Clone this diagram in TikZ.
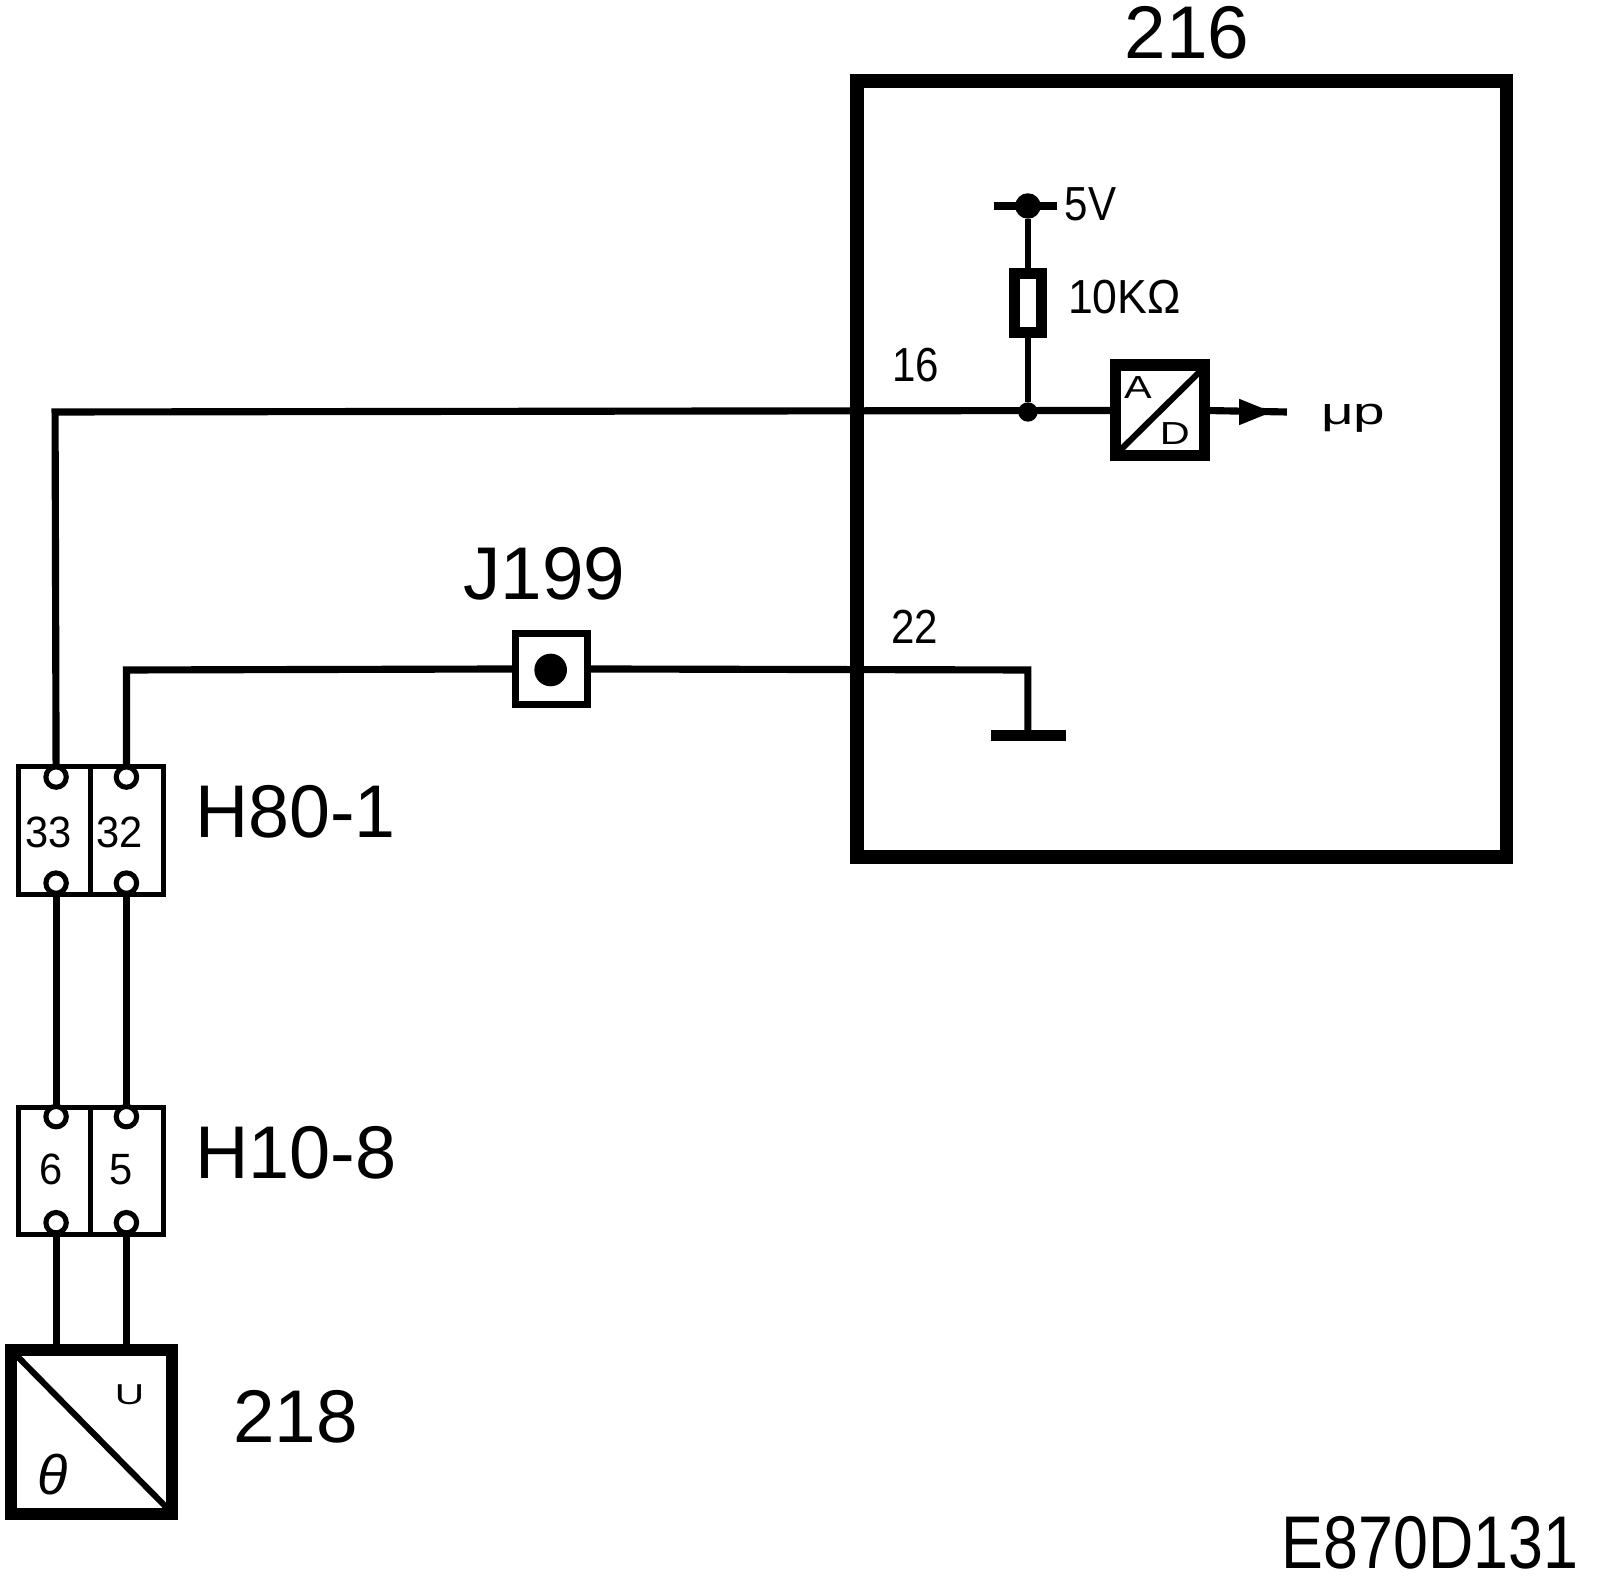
\documentclass[tikz,border=0pt]{standalone}
\usepackage{fontspec}
\setmainfont{Liberation Sans}
\newcommand{\fs}[1]{\fontsize{#1}{#1}\selectfont}
\newlength{\uu}\setlength{\uu}{0.512pt}
\tikzset{
  wire/.style={draw=black,line width=7\uu},
  thinwire/.style={draw=black,line width=6\uu},
  big/.style={font=\fs{37.5},inner sep=0pt,text=black},
  small/.style={font=\fs{24},inner sep=0pt,text=black,xscale=.88},
  pin/.style={circle,draw=black,fill=white,line width=5\uu,minimum size=20\uu,inner sep=0pt,outer sep=0pt},
  cell/.style={rectangle,draw=black,fill=white,line width=5\uu,minimum width=71\uu,minimum height=125\uu,inner sep=0pt,outer sep=0pt},
  dotn/.style={circle,fill=black,inner sep=0pt,outer sep=0pt},
  heavy/.style={rectangle,draw=black,inner sep=0pt,outer sep=0pt},
}
\begin{document}
\begin{tikzpicture}[x=\uu,y=-\uu]
\useasboundingbox[fill=white] (0,-1) rectangle (1569,1548.4);
% module 216
\node[heavy,line width=13\uu,minimum width=637\uu,minimum height=761\uu] (mod) at (1159,459) {};
\node[big,anchor=center] (t216) at (1164,31) {216};
% connector blocks
\node[cell] (c33) at (54,813.5) {};
\node[cell] (c32) at (124.5,813.5) {};
\node[cell] (c6) at (54,1147.5) {};
\node[cell] (c5) at (124.5,1147.5) {};
\node[pin] (p33a) at (55,761) {};
\node[pin] (p32a) at (124,761) {};
\node[pin] (p33b) at (55,865) {};
\node[pin] (p32b) at (124,865) {};
\node[pin] (p6a) at (55,1094) {};
\node[pin] (p5a) at (124,1094) {};
\node[pin] (p6b) at (55,1198) {};
\node[pin] (p5b) at (124,1198) {};
\node[font=\fs{22},inner sep=0pt,xscale=.95] (l33) at (48,815) {33};
\node[font=\fs{22},inner sep=0pt,xscale=.95] (l32) at (117,815) {32};
\node[font=\fs{22},inner sep=0pt,xscale=.95] (l6) at (50,1146) {6};
\node[font=\fs{22},inner sep=0pt,xscale=.95] (l5) at (119,1146) {5};
\node[big,anchor=base west,xscale=.985] (h80) at (191,820) {H80-1};
\node[big,anchor=base west,xscale=.99] (h10) at (191,1155) {H10-8};
% sensor 218
\node[heavy,line width=12\uu,minimum width=158\uu,minimum height=161\uu] (sens) at (90,1403.5) {};
\coordinate (s1) at (14,1326);
\coordinate (s2) at (166,1480);
\draw[thinwire] (s1) -- (s2);
\node[font=\fs{17},inner sep=0pt,xscale=1.2,yscale=.85] (lu) at (127,1367) {U};
\node[font=\fs{28}\itshape,inner sep=0pt] (lth) at (52,1445) {θ};
\node[big,anchor=base] (t218) at (290,1414) {218};
% J199
\node[heavy,line width=7\uu,fill=white,minimum width=71\uu,minimum height=69\uu] (j) at (541,655) {};
\node[big,anchor=center] (tj) at (534,562) {J199};
% wires
\coordinate (n16) at (1008,403);
\coordinate (cor1) at (54,403);
\coordinate (cor2) at (124,656);
\coordinate (gnd) at (1008,720);
\coordinate (g1) at (972,720);
\coordinate (g2) at (1045,720);
% A/D
\node[heavy,line width=11\uu,minimum width=87\uu,minimum height=89\uu] (ad) at (1137.5,401.5) {};
\draw[wire] (p33a.north) -- (cor1) -- (ad.west);
\draw[wire] (p32a.north) -- (cor2) -- (j.west);
\draw[wire] (j.east) -- (1008,656) -- (gnd);
\draw[line width=11\uu] (g1) -- (g2);
\node[dotn,minimum size=32\uu] (jd) at (540,656) {};
\draw[wire] (p33b.south) -- (p6a.north);
\draw[wire] (p32b.south) -- (p5a.north);
\draw[wire] (p6b.south) -- (p6b.south |- sens.north);
\draw[wire] (p5b.south) -- (p5b.south |- sens.north);
% supply and resistor
\node[dotn,minimum size=25\uu] (v5) at (1008,201) {};
\coordinate (v1) at (975,201);
\coordinate (v2) at (1037,201);
\draw[line width=7\uu] (v1) -- (v2);
\node[heavy,line width=11\uu,minimum width=26\uu,minimum height=58\uu] (res) at (1008,296) {};
\node[dotn,minimum size=19\uu] (jn) at (n16) {};
\draw[thinwire] (v5) -- (res.north);
\draw[thinwire] (res.south) -- (jn);
\node[small,anchor=base west] (l5v) at (1044,215) {5V};
\node[small,anchor=base west,xscale=1.06] (l10k) at (1047,306) {10KΩ};
\node[small,anchor=center] (l16) at (898,357) {16};
\node[small,anchor=center] (l22) at (897,614) {22};
% A/D inner
\draw[thinwire] (1097,442) -- (1178,362);
\node[font=\fs{16},inner sep=0pt,xscale=1.3] (la) at (1116,379) {A};
\node[font=\fs{16},inner sep=0pt,xscale=1.3] (ld) at (1152,424) {D};
\coordinate (o) at (1262,403);
\draw[wire] (ad.east) -- (o);
\fill[black] (1215,390) -- (1247,403) -- (1215,416) -- cycle;
\node[font=\fs{19},inner sep=0pt,xscale=1.5] (lmu) at (1327,409) {μp};
\node[big,anchor=base east,xscale=.84] (code) at (1548,1537) {E870D131};
\end{tikzpicture}
\end{document}
